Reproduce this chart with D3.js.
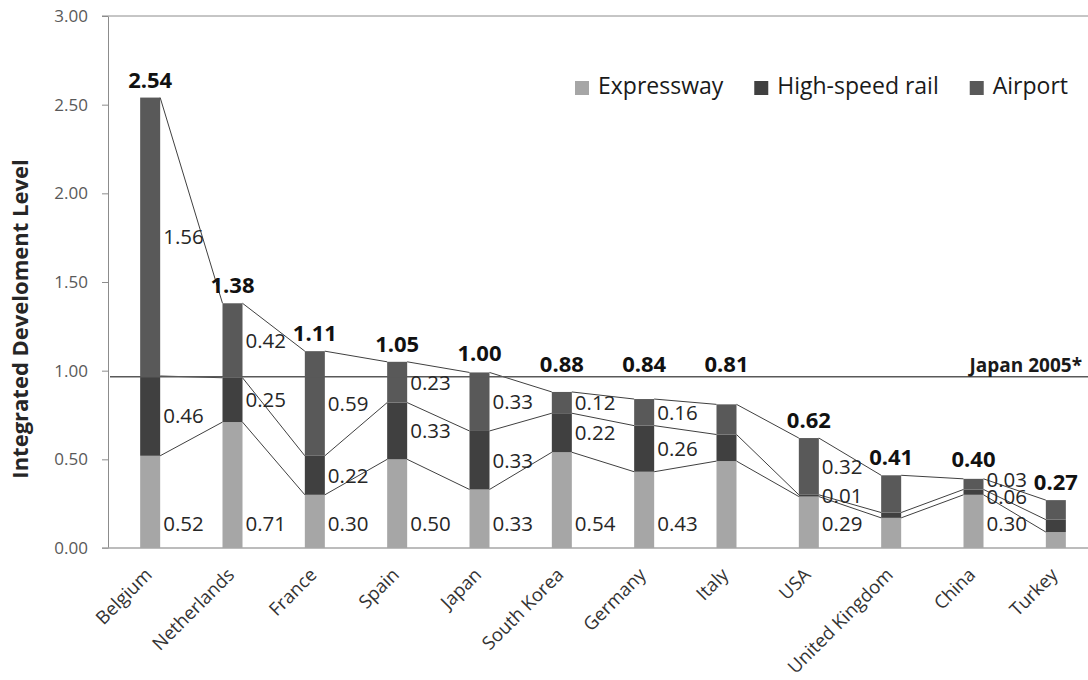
<!DOCTYPE html>
<html>
<head>
<meta charset="utf-8">
<script src="https://cdn.jsdelivr.net/npm/d3@7"></script>
<style>
  body { margin: 0; background: #fff; }
  text { font-family: "Open Sans", sans-serif; }
</style>
</head>
<body>
<div id="container"></div>
<script>
/* DATA */
const countries = ["Belgium", "Netherlands", "France", "Spain", "Japan", "South Korea",
  "Germany", "Italy", "USA", "United Kingdom", "China", "Turkey"]
const expressway = [0.52, 0.71, 0.30, 0.50, 0.33, 0.54, 0.43, 0.49, 0.29, 0.17, 0.30, 0.09]
const rail       = [0.45, 0.25, 0.22, 0.32, 0.33, 0.22, 0.26, 0.15, 0.01, 0.03, 0.03, 0.07]
const airport    = [1.57, 0.42, 0.59, 0.23, 0.33, 0.12, 0.15, 0.17, 0.32, 0.21, 0.06, 0.11]
const totals     = [2.54, 1.38, 1.11, 1.05, 1.00, 0.88, 0.84, 0.81, 0.62, 0.41, 0.40, 0.27]
const expresswayLabels = ["0.52", "0.71", "0.30", "0.50", "0.33", "0.54", "0.43", null, "0.29", null, "0.30", null]
const railLabels       = ["0.46", "0.25", "0.22", "0.33", "0.33", "0.22", "0.26", null, "0.01", null, "0.06", null]
const airportLabels    = ["1.56", "0.42", "0.59", "0.23", "0.33", "0.12", "0.16", null, "0.32", null, "0.03", null]
const seriesNames = ["Expressway", "High-speed rail", "Airport"]
const yTicks = [0, 0.5, 1, 1.5, 2, 2.5, 3]
const japan2005 = 0.965

/* CONSTANTS AND GLOBALS */
const width = 1088,
  height = 680,
  margin = { top: 16, bottom: 132, left: 108, right: -9 }

const keys = ["expressway", "rail", "airport"]
const table = countries.map((c, i) => ({
  country: c, expressway: expressway[i], rail: rail[i], airport: airport[i], total: totals[i], i: i
}))
const labelSets = [expresswayLabels, railLabels, airportLabels]

const svg = d3.select("#container")
  .append("svg")
  .attr("width", width)
  .attr("height", height)

const xScale = d3.scaleBand()
  .domain(countries)
  .range([margin.left + 1, width - margin.right])
  .paddingInner(0.757)
  .paddingOuter(0.3785)

const yScale = d3.scaleLinear()
  .domain([0, 3])
  .range([height - margin.bottom, margin.top])

const colorScale = d3.scaleOrdinal()
  .domain(keys)
  .range(["#a6a6a6", "#404040", "#595959"])

const bw = xScale.bandwidth()
const stacked = d3.stack().keys(keys)(table)

// top border
svg.append("line")
  .attr("x1", margin.left - 6).attr("x2", width)
  .attr("y1", yScale(3)).attr("y2", yScale(3))
  .attr("stroke", "#8c8c8c")

// y axis
const yAxis = d3.axisLeft(yScale)
  .tickValues(yTicks)
  .tickFormat(d3.format(".2f"))
  .tickSize(6)
  .tickSizeOuter(0)
  .tickPadding(14)
const yg = svg.append("g")
  .attr("class", "y-axis")
  .attr("transform", `translate(${margin.left},0)`)
  .call(yAxis)
yg.select(".domain").attr("stroke", "#8c8c8c")
yg.selectAll(".tick line").attr("stroke", "#8c8c8c")
yg.selectAll(".tick text")
  .attr("fill", "#595959")
  .style("font-size", "17px")

svg.append("text")
  .attr("class", "yAxisLabel")
  .attr("transform", `translate(28, 319) rotate(-90)`)
  .attr("text-anchor", "middle")
  .attr("fill", "#262626")
  .style("font-size", "22px")
  .style("font-weight", "bold")
  .text("Integrated Develoment Level")

// bars
svg.selectAll("g.layer")
  .data(stacked)
  .join("g")
  .attr("class", "layer")
  .attr("fill", d => colorScale(d.key))
  .selectAll("rect")
  .data(d => d)
  .join("rect")
  .attr("x", d => xScale(d.data.country))
  .attr("y", d => yScale(d[1]))
  .attr("width", bw)
  .attr("height", d => yScale(d[0]) - yScale(d[1]))

// series lines between bars
stacked.forEach(layer => {
  svg.append("g")
    .selectAll("line")
    .data(d3.pairs(layer))
    .join("line")
    .attr("x1", d => xScale(d[0].data.country) + bw)
    .attr("y1", d => yScale(d[0][1]))
    .attr("x2", d => xScale(d[1].data.country))
    .attr("y2", d => yScale(d[1][1]))
    .attr("stroke", "#404040")
    .attr("stroke-width", 1)
})

// bottom axis
svg.append("line")
  .attr("x1", margin.left - 6).attr("x2", width)
  .attr("y1", yScale(0)).attr("y2", yScale(0))
  .attr("stroke", "#a6a6a6")
  .attr("stroke-width", 1.5)

const xAxis = d3.axisBottom(xScale).tickSize(0)
const xg = svg.append("g")
  .attr("class", "x-axis")
  .attr("transform", `translate(0,${yScale(0)})`)
  .call(xAxis)
xg.select(".domain").remove()
xg.selectAll(".tick text")
  .attr("x", 0).attr("y", 0).attr("dy", 0)
  .attr("text-anchor", "end")
  .attr("transform", "translate(3,28) rotate(-45)")
  .attr("fill", "#333")
  .style("font-size", "18.5px")

// Japan 2005 reference
svg.append("line")
  .attr("x1", margin.left + 2).attr("x2", width)
  .attr("y1", yScale(japan2005)).attr("y2", yScale(japan2005))
  .attr("stroke", "#595959")
  .attr("stroke-width", 1.5)
svg.append("text")
  .attr("x", 1082)
  .attr("y", yScale(japan2005) - 5)
  .attr("text-anchor", "end")
  .attr("fill", "#1a1a1a")
  .style("font-size", "19px")
  .style("font-weight", "bold")
  .text("Japan 2005*")

// segment value labels (rail/airport at segment middle, expressway in a row near the base)
const segLabels = []
stacked.forEach((layer, k) => {
  layer.forEach(d => {
    const txt = labelSets[k][d.data.i]
    if (txt == null) return
    segLabels.push({
      k: k, i: d.data.i, text: txt,
      x: xScale(d.data.country) + bw + 3,
      y: k === 0 ? yScale(0.135) : yScale((d[0] + d[1]) / 2)
    })
  })
})
// push apart rail/airport labels that sit too close
countries.forEach((c, i) => {
  const r = segLabels.find(l => l.i === i && l.k === 1)
  const a = segLabels.find(l => l.i === i && l.k === 2)
  if (r && a && r.y - a.y < 17) {
    const s = (17 - (r.y - a.y)) / 2
    a.y -= s
    r.y += s
  }
})
svg.append("g")
  .selectAll("text")
  .data(segLabels)
  .join("text")
  .attr("x", d => d.x)
  .attr("y", d => d.y)
  .attr("dy", "0.36em")
  .attr("fill", "#262626")
  .style("font-size", "20.5px")
  .text(d => d.text)

// total labels
svg.append("g")
  .selectAll("text")
  .data(table)
  .join("text")
  .attr("x", d => xScale(d.country) + bw / 2)
  .attr("y", d => (d.total < japan2005 && d.total > 0.7) ? yScale(japan2005) - 5 : yScale(d.total) - 10)
  .attr("text-anchor", "middle")
  .attr("fill", "#111")
  .style("font-size", "22px")
  .style("font-weight", "bold")
  .text(d => d.total.toFixed(2))

// legend
const legend = svg.append("g").attr("class", "legend")
let lx = 575
keys.forEach((k, i) => {
  legend.append("rect")
    .attr("x", lx).attr("y", 81)
    .attr("width", 14).attr("height", 14)
    .attr("fill", colorScale(k))
  const t = legend.append("text")
    .attr("x", lx + 23).attr("y", 94)
    .attr("fill", "#1a1a1a")
    .style("font-size", "23px")
    .text(seriesNames[i])
  lx += 23 + t.node().getComputedTextLength() + 31
})
</script>
</body>
</html>
